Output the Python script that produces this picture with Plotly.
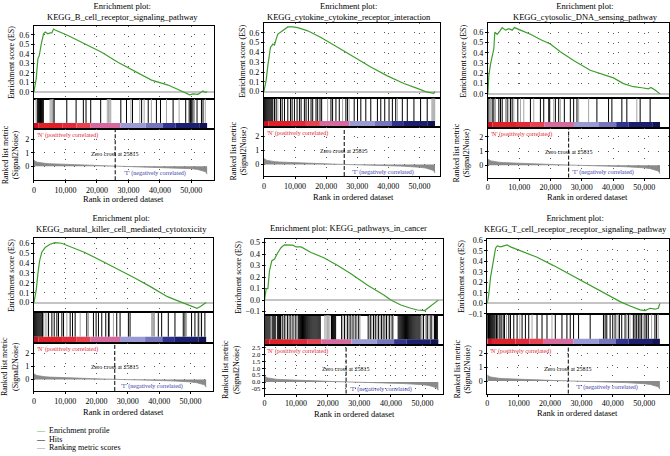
import plotly.graph_objects as go

W, H = 670, 456
FONT = "Liberation Serif"
GREEN = "#3d9e2c"

# ---------------- shared data ----------------
ZERO_CROSS = 25815
X_TICKS = [0, 10000, 20000, 30000, 40000, 50000]
X_TICK_LABELS = ["0", "10,000", "20,000", "30,000", "40,000", "50,000"]

RANK_X = [0, 300, 1000, 2000, 3500, 5000, 7500, 10000, 14000, 18000, 22000, 25815,
          30000, 35000, 40000, 44000, 47000, 50000, 52000, 53500, 54500, 55000]
RANK_METRIC = [0.46, 0.38, 0.30, 0.25, 0.21, 0.18, 0.15, 0.12, 0.09, 0.07, 0.035, 0.0,
               -0.03, -0.05, -0.08, -0.11, -0.14, -0.19, -0.25, -0.32, -0.42, -0.6]

BAND_EDGES = [0, 1500, 9000, 13500, 18000, 27500, 35500, 41000, 45000, 52500, 55000]
BAND_COLORS = ["#c3111f", "#e01f27", "#e3283a", "#e8414f", "#d66a9e",
               "#9a9ad4", "#7676bd", "#30348e", "#1c1f6d", "#111353"]

POS_LABEL = "'N' (positively correlated)"
NEG_LABEL = "'T' (negatively correlated)"
ZERO_LABEL = "Zero cross at 25815"
XLABEL = "Rank in ordered dataset"
ES_LABEL = "Enrichment score (ES)"
RANK_LABEL = "Ranked list metric<br>(Signal2Noise)"

TITLES = [
    "Enrichment plot:<br>KEGG_B_cell_receptor_signaling_pathway",
    "Enrichment plot:<br>KEGG_cytokine_cytokine_receptor_interaction",
    "Enrichment plot:<br>KEGG_cytosolic_DNA_sensing_pathway",
    "Enrichment plot:<br>KEGG_natural_killer_cell_mediated_cytotoxicity",
    "Enrichment plot: KEGG_pathways_in_cancer",
    "Enrichment plot:<br>KEGG_T_cell_receptor_receptor_signaling_pathway",
]

# ---------------- per-panel data ----------------
A_ES_X = [0, 730, 1270, 1690, 2320, 3060, 3590, 4430, 5160, 5700, 6230, 6750, 10980, 16240,
          21520, 26800, 32060, 37340, 42620, 46840, 49460, 50520, 52100, 52950, 53700, 54430, 55000]
A_ES_Y = [0.0, 0.14, 0.35, 0.38, 0.50, 0.61, 0.63, 0.61, 0.62, 0.62, 0.66, 0.65, 0.59, 0.50,
          0.417, 0.31, 0.217, 0.124, 0.072, 0.01, -0.03, -0.02, -0.025, -0.005, 0.01, -0.005, 0.0]
A_HITS_DARK = [1200, 1500, 1800, 2100, 2400, 2700, 3000, 6420, 10440, 13400, 15700, 16550, 18040,
               21200, 27600, 29400, 31300, 34200, 36300, 38900, 40200, 44200, 48200, 49300, 49700,
               50100, 50500, 51800, 53200, 53700]
A_HITS_LIGHT = [700, 900, 5160, 5500, 5900, 6230, 23300, 23700, 24100, 24400, 30800, 33600, 35000,
                37300, 42100, 46100, 51000, 54400]

B_ES_X = [0, 740, 1280, 2110, 2880, 3390, 3940, 4480, 5540, 6590, 7680, 9280, 10880, 14080, 18340,
          23680, 28990, 34340, 39680, 45000, 49280, 51940, 54590, 55000]
B_ES_Y = [0.0, 0.12, 0.27, 0.45, 0.485, 0.475, 0.535, 0.587, 0.61, 0.636, 0.66, 0.66, 0.653, 0.62,
          0.553, 0.452, 0.352, 0.251, 0.161, 0.083, 0.033, 0.0, -0.017, 0.0]
B_HITS_DARK = [150, 450, 750, 1050, 1350, 1650, 1950, 2250, 2550, 2850, 3410, 3940, 5330, 5870, 6610,
               7680, 8530, 9060, 9810, 10660, 11410, 11950, 13010, 13550, 14300, 15150, 15680, 16750,
               17280, 18030, 18560, 21550, 22080, 23150, 24220, 26350, 26890, 29020, 30090, 31150,
               32750, 34350, 36490, 37560, 38840, 40220, 41290, 42360, 44490, 46090, 48220, 50360, 52490]
B_HITS_LIGHT = [4480, 20480, 25290, 27420, 42890, 54000, 54300, 54600, 54900]

C_ES_X = [0, 320, 860, 1400, 1910, 2230, 3000, 3820, 4590, 5640, 6690, 7770, 8500, 10410, 13600,
          16780, 19970, 23150, 27400, 32700, 38030, 40130, 43320, 46500, 49180, 51280, 52040, 53410, 55000]
C_ES_Y = [0.0, 0.18, 0.29, 0.36, 0.44, 0.60, 0.58, 0.61, 0.645, 0.62, 0.635, 0.62, 0.645, 0.62, 0.58,
          0.53, 0.485, 0.41, 0.326, 0.23, 0.172, 0.156, 0.10, 0.07, 0.06, 0.048, 0.063, 0.038, 0.0]
C_HITS_DARK = [330, 1390, 1920, 3510, 4040, 4580, 6170, 7230, 7760, 9570, 13600, 16790, 17850, 19450,
               19760, 21570, 22630, 24440, 26350, 27410, 28470, 34840, 38560, 39620, 42810, 44400,
               48650, 51840]
C_HITS_LIGHT = [860, 2450, 5640, 6700, 8290, 10420, 11480, 14670, 21040, 23160, 29000, 32190, 47590]

D_ES_X = [0, 420, 740, 1270, 1800, 2530, 3590, 5170, 6760, 8870, 10980, 16250, 21520, 26800, 32060,
          37340, 42620, 45780, 48940, 52100, 53160, 54000, 55000]
D_ES_Y = [0.0, 0.09, 0.125, 0.29, 0.42, 0.51, 0.557, 0.59, 0.607, 0.6, 0.573, 0.507, 0.424, 0.341,
          0.252, 0.159, 0.06, 0.02, -0.017, -0.057, -0.04, -0.024, 0.0]
D_HITS_DARK = [150, 450, 750, 1050, 1350, 1650, 1950, 2250, 2550, 2770, 4680, 5740, 6480, 7330, 7860,
               8930, 9460, 11580, 12330, 13170, 16890, 19010, 19860, 20610, 21670, 22940, 23790, 24010,
               26450, 27510, 30170, 30700, 39720, 40790, 42910, 45040, 47690, 48220, 50340, 51410,
               52470, 53530, 54590]
D_HITS_LIGHT = [3090, 3620, 4150, 10520, 14770, 17420, 25390, 37600, 37900, 38200, 38500, 48750, 53000]

E_ES_X = [0, 220, 540, 1070, 1580, 2330, 3160, 4230, 5270, 6310, 7890, 8950, 10000, 11580, 14730,
          18930, 23160, 27350, 32620, 37870, 39970, 43130, 46280, 48400, 50700, 52590, 54490, 55000]
E_ES_Y = [0.0, 0.043, 0.10, 0.10, 0.257, 0.342, 0.357, 0.414, 0.457, 0.48, 0.48, 0.477, 0.462, 0.462,
          0.414, 0.366, 0.30, 0.229, 0.128, 0.043, 0.0, -0.043, -0.071, -0.086, -0.091, -0.051,
          -0.005, 0.0]
E_HITS_DARK = [100, 430, 760, 1090, 1420, 1750, 2410, 2740, 3070, 3400, 4060, 4390, 4720, 5050,
               5600, 6400, 7300, 8100, 9000, 9900,
               10700, 11030, 11360, 11690, 12020, 12350, 12680, 13010, 13340, 13670, 14000, 14330,
               14660, 14990, 15320, 15650, 15980, 16310, 16640, 16970, 17300, 17630,
               21200, 21530, 21860, 22190, 22500,
               24400, 25300, 26300, 27100, 28000, 28900, 29800,
               32800, 33600, 34500, 35200, 36100, 37000, 37800, 38600, 39500, 40400,
               42300, 42630, 42960, 43290, 43620, 43950, 44280, 44610, 44940, 45270, 45600, 45930,
               46260, 46590, 46920, 47250, 47580, 47910, 48240, 48570, 48900, 49230,
               50300, 51500, 52700, 53800, 54100, 54400, 54700]
E_HITS_LIGHT = [6000, 6800, 7700, 8500, 9400, 10300, 19100, 19500, 19900, 20300, 20700,
                24800, 25800, 26700, 27500, 28400, 29300, 30200,
                33200, 34000, 34900, 35700, 36600, 37400, 38200, 39100, 40000, 40800,
                49700, 50100, 50900, 51300, 51700, 52100, 52500, 52900, 53300]

F_ES_X = [0, 530, 1060, 1590, 2120, 2650, 3180, 4220, 5280, 6350, 7400, 8450, 10570, 15880, 21150,
          26450, 31750, 37030, 42320, 45500, 48670, 50260, 51850, 53440, 54500, 55000]
F_ES_Y = [0.0, 0.094, 0.25, 0.344, 0.438, 0.525, 0.547, 0.537, 0.547, 0.556, 0.537, 0.525, 0.506,
          0.438, 0.359, 0.275, 0.187, 0.10, 0.016, -0.025, -0.062, -0.069, -0.047, -0.056, -0.047, 0.0]
F_HITS_DARK = [100, 400, 700, 1000, 1300, 1600, 1900, 2200, 2500, 2950, 3380, 4010, 4430, 5070, 5490,
               6870, 7400, 8450, 9510, 11100, 12160, 13220, 15860, 17450, 19030, 21680, 23800, 25380,
               26440, 27500, 29090, 32790, 37020, 37550, 38080, 39140, 39980, 40720, 42100, 42840,
               43900, 44960, 46540, 47070, 47600, 48130, 48660, 49190, 50250, 50780, 51310, 53420, 53950]
F_HITS_LIGHT = [6130, 10360, 14270, 20620, 41300, 41780, 44400, 45480, 49720, 52360, 54480]

ES_X = [A_ES_X, B_ES_X, C_ES_X, D_ES_X, E_ES_X, F_ES_X]
ES_Y = [A_ES_Y, B_ES_Y, C_ES_Y, D_ES_Y, E_ES_Y, F_ES_Y]
HITS_DARK = [A_HITS_DARK, B_HITS_DARK, C_HITS_DARK, D_HITS_DARK, E_HITS_DARK, F_HITS_DARK]
HITS_LIGHT = [A_HITS_LIGHT, B_HITS_LIGHT, C_HITS_LIGHT, D_HITS_LIGHT, E_HITS_LIGHT, F_HITS_LIGHT]

ES_TICKS_STD = [0.0, 0.1, 0.2, 0.3, 0.4, 0.5, 0.6]
ES_TICKS = [ES_TICKS_STD, ES_TICKS_STD, ES_TICKS_STD, ES_TICKS_STD,
            [-0.1, 0.0, 0.1, 0.2, 0.3, 0.4, 0.5],
            [-0.1, 0.0, 0.1, 0.2, 0.3, 0.4, 0.5, 0.6]]
RANK_TICKS_STD = [0, 1, 2]
RANK_TICKS_E = [-0.5, 0.0, 0.5, 1.0, 1.5, 2.0, 2.5]
RANK_TICK_LABELS_E = ["-05", "0.0", "0.5", "1.0", "1.5", "2.0", "2.5"]

# ---------------- layout geometry (pixels) ----------------
GEOM = [
    dict(x0=32, x1=213, es_top=23, es_bot=97, hit_bot=128, rk_bot=180, xmax=57300,
         es_rng=[-0.069, 0.696], rk_rng=[-1.06, 2.79], tx=121, ty=8.3, xl=(122, 199),
         es_tx=9, rk_tx=8.7, zero_y=0.94, neg_x=28000, neg_y=-0.56),
    dict(x0=262.7, x1=439, es_top=20.7, es_bot=96.7, hit_bot=125.7, rk_bot=175.7, xmax=56500,
         es_rng=[-0.067, 0.696], rk_rng=[-0.82, 2.71], tx=348, ty=8.3, xl=(353, 196.7),
         es_tx=241.7, rk_tx=236.8, zero_y=0.94, neg_x=27600, neg_y=-0.54),
    dict(x0=487.3, x1=669, es_top=20.7, es_bot=96.7, hit_bot=127, rk_bot=177.3, xmax=57870,
         es_rng=[-0.042, 0.686], rk_rng=[-0.88, 2.63], tx=585, ty=8.3, xl=(587, 197.3),
         es_tx=463.3, rk_tx=461, zero_y=0.95, neg_x=26200, neg_y=-0.53),
    dict(x0=32, x1=212, es_top=238.3, es_bot=314.3, hit_bot=345, rk_bot=394, xmax=57300,
         es_rng=[-0.1, 0.657], rk_rng=[-0.89, 2.84], tx=120, ty=223.6, xl=(122, 415),
         es_tx=9, rk_tx=8.3, zero_y=1.0, neg_x=27300, neg_y=-0.53),
    dict(x0=263.3, x1=442.7, es_top=240, es_bot=316.7, hit_bot=347.7, rk_bot=396.7, xmax=56600,
         es_rng=[-0.128, 0.528], rk_rng=[-0.84, 2.66], tx=348, ty=229, xl=(353.7, 417.7),
         es_tx=236.7, rk_tx=229.3, zero_y=0.95, neg_x=26300, neg_y=-0.55),
    dict(x0=486.7, x1=669, es_top=240, es_bot=316, hit_bot=347.3, rk_bot=396.7, xmax=57900,
         es_rng=[-0.103, 0.609], rk_rng=[-0.91, 2.62], tx=575, ty=223.6, xl=(577.5, 416),
         es_tx=460.7, rk_tx=461.7, zero_y=0.88, neg_x=27500, neg_y=-0.5),
]
BAND_FRAC = 0.2

FRAME = dict(showline=True, mirror=True, linecolor="black", linewidth=1)
GRID = dict(showgrid=True, gridcolor="#555555", gridwidth=1, griddash="1px,9px")
TICKFONT = dict(size=8, family=FONT, color="black")
SMALL_TICKFONT = dict(size=6.5, family=FONT, color="black")
NOTE_SIZE = 6


def xa(n):
    return "xaxis" if n == 1 else f"xaxis{n}"


def ya(n):
    return "yaxis" if n == 1 else f"yaxis{n}"


def xr(n):
    return "x" if n == 1 else f"x{n}"


def yr(n):
    return "y" if n == 1 else f"y{n}"


def py(v):
    return 1 - v / H


fig = go.Figure()
axes = {}
annotations = []
shapes = []

band_centers = [(BAND_EDGES[i] + BAND_EDGES[i + 1]) / 2 for i in range(len(BAND_COLORS))]
band_widths = [BAND_EDGES[i + 1] - BAND_EDGES[i] for i in range(len(BAND_COLORS))]

for p, g in enumerate(GEOM):
    n_es, n_hit, n_rk = 3 * p + 1, 3 * p + 2, 3 * p + 3
    xdom = [g["x0"] / W, g["x1"] / W]

    # ES panel
    axes[xa(n_es)] = dict(domain=xdom, range=[0, g["xmax"]], tickvals=X_TICKS, showticklabels=False,
                          ticks="", zeroline=False, anchor=yr(n_es), **GRID, **FRAME)
    axes[ya(n_es)] = dict(domain=[py(g["es_bot"]), py(g["es_top"])], range=g["es_rng"],
                          tickvals=ES_TICKS[p], tickformat=".1f", ticks="outside", ticklen=2,
                          tickcolor="black", tickfont=TICKFONT, zeroline=True,
                          zerolinecolor="#c4c4c4", zerolinewidth=2, anchor=xr(n_es), **GRID, **FRAME)
    # hits panel
    axes[xa(n_hit)] = dict(domain=xdom, range=[0, g["xmax"]], showticklabels=False, ticks="",
                           showgrid=False, zeroline=False, anchor=yr(n_hit), **FRAME)
    axes[ya(n_hit)] = dict(domain=[py(g["hit_bot"]), py(g["es_bot"])], range=[0, 1],
                           showticklabels=False, ticks="", showgrid=False, zeroline=False,
                           anchor=xr(n_hit), **FRAME)
    # ranked panel
    if p == 4:
        rk_ticks, rk_text, rk_font = RANK_TICKS_E, RANK_TICK_LABELS_E, SMALL_TICKFONT
    else:
        rk_ticks, rk_text, rk_font = RANK_TICKS_STD, [str(v) for v in RANK_TICKS_STD], TICKFONT
    axes[xa(n_rk)] = dict(domain=xdom, range=[0, g["xmax"]], tickvals=X_TICKS, ticktext=X_TICK_LABELS,
                          ticks="outside", ticklen=2, tickcolor="black", tickfont=TICKFONT,
                          zeroline=False, anchor=yr(n_rk), **GRID, **FRAME)
    axes[ya(n_rk)] = dict(domain=[py(g["rk_bot"]), py(g["hit_bot"])], range=g["rk_rng"],
                          tickvals=rk_ticks, ticktext=rk_text, ticks="outside", ticklen=2,
                          tickcolor="black", tickfont=rk_font, zeroline=False, anchor=xr(n_rk),
                          **GRID, **FRAME)

    # traces
    fig.add_trace(go.Scatter(x=ES_X[p], y=ES_Y[p], mode="lines", line=dict(color=GREEN, width=1.2),
                             xaxis=xr(n_es), yaxis=yr(n_es), showlegend=False, hoverinfo="skip"))
    for hits, col in ((HITS_LIGHT[p], "#a6a6a6"), (HITS_DARK[p], "black")):
        hx, hy = [], []
        for h in hits:
            hx += [h, h, None]
            hy += [BAND_FRAC, 1, None]
        fig.add_trace(go.Scatter(x=hx, y=hy, mode="lines", line=dict(color=col, width=1),
                                 xaxis=xr(n_hit), yaxis=yr(n_hit), showlegend=False, hoverinfo="skip"))
    fig.add_trace(go.Bar(x=band_centers, y=[BAND_FRAC] * len(band_centers), base=0, width=band_widths,
                         marker=dict(color=BAND_COLORS, line=dict(width=0)),
                         xaxis=xr(n_hit), yaxis=yr(n_hit), showlegend=False, hoverinfo="skip"))
    fig.add_trace(go.Scatter(x=RANK_X, y=RANK_METRIC, mode="lines", fill="tozeroy",
                             fillcolor="#8a8a8a", line=dict(color="#8a8a8a", width=0.8),
                             xaxis=xr(n_rk), yaxis=yr(n_rk), showlegend=False, hoverinfo="skip"))

    # zero cross dashed line
    shapes.append(dict(type="line", xref=xr(n_rk), yref=f"{yr(n_rk)} domain", x0=ZERO_CROSS,
                       x1=ZERO_CROSS, y0=0, y1=1, line=dict(color="black", width=1, dash="4px,2px")))

    # texts
    annotations.append(dict(text=TITLES[p], x=g["tx"] / W, y=py(g["ty"]), xref="paper", yref="paper",
                            xanchor="center", yanchor="middle", showarrow=False,
                            font=dict(size=8.5, family=FONT, color="black")))
    annotations.append(dict(text=XLABEL, x=g["xl"][0] / W, y=py(g["xl"][1]), xref="paper", yref="paper",
                            xanchor="center", yanchor="middle", showarrow=False,
                            font=dict(size=8.5, family=FONT, color="black")))
    annotations.append(dict(text=ES_LABEL, x=g["es_tx"] / W, y=py((g["es_top"] + g["es_bot"]) / 2),
                            xref="paper", yref="paper", xanchor="center", yanchor="middle",
                            textangle=-90, showarrow=False, font=dict(size=8, family=FONT, color="black")))
    annotations.append(dict(text=RANK_LABEL, x=g["rk_tx"] / W, y=py((g["hit_bot"] + g["rk_bot"]) / 2),
                            xref="paper", yref="paper", xanchor="center", yanchor="middle",
                            textangle=-90, showarrow=False, font=dict(size=8, family=FONT, color="black")))
    annotations.append(dict(text=POS_LABEL, x=300, y=1, xref=xr(n_rk), yref=f"{yr(n_rk)} domain",
                            xanchor="left", yanchor="top", yshift=-1, showarrow=False,
                            font=dict(size=NOTE_SIZE, family=FONT, color="#e3202b")))
    annotations.append(dict(text=ZERO_LABEL, x=ZERO_CROSS, y=g["zero_y"], xref=xr(n_rk), yref=yr(n_rk),
                            xanchor="center", yanchor="middle", showarrow=False,
                            font=dict(size=NOTE_SIZE, family=FONT, color="black")))
    annotations.append(dict(text=NEG_LABEL, x=g["neg_x"], y=g["neg_y"], xref=xr(n_rk), yref=yr(n_rk),
                            xanchor="left", yanchor="middle", showarrow=False,
                            font=dict(size=NOTE_SIZE, family=FONT, color="#3a3aa8")))

# legend (figure key drawn as text)
LEGEND_ITEMS = [("Enrichment profile", "#6abf5e"), ("Hits", "black"), ("Ranking metric scores", "#999999")]
for i, (label, col) in enumerate(LEGEND_ITEMS):
    annotations.append(dict(text=f"<span style='color:{col}'>\u2014</span>  {label}",
                            x=32 / W, y=py(434.3 + 8.6 * i), xref="paper", yref="paper",
                            xanchor="left", yanchor="middle", showarrow=False,
                            font=dict(size=8, family=FONT, color="black")))

fig.update_layout(width=W, height=H, margin=dict(l=0, r=0, t=0, b=0), paper_bgcolor="white",
                  plot_bgcolor="white", showlegend=False, font=dict(family=FONT, color="black"),
                  annotations=annotations, shapes=shapes, **axes)
fig.write_html("out.html", config={"displayModeBar": False},
               post_script="document.body.style.margin='0';document.body.style.padding='0';"
                           "document.body.style.overflow='hidden';")
